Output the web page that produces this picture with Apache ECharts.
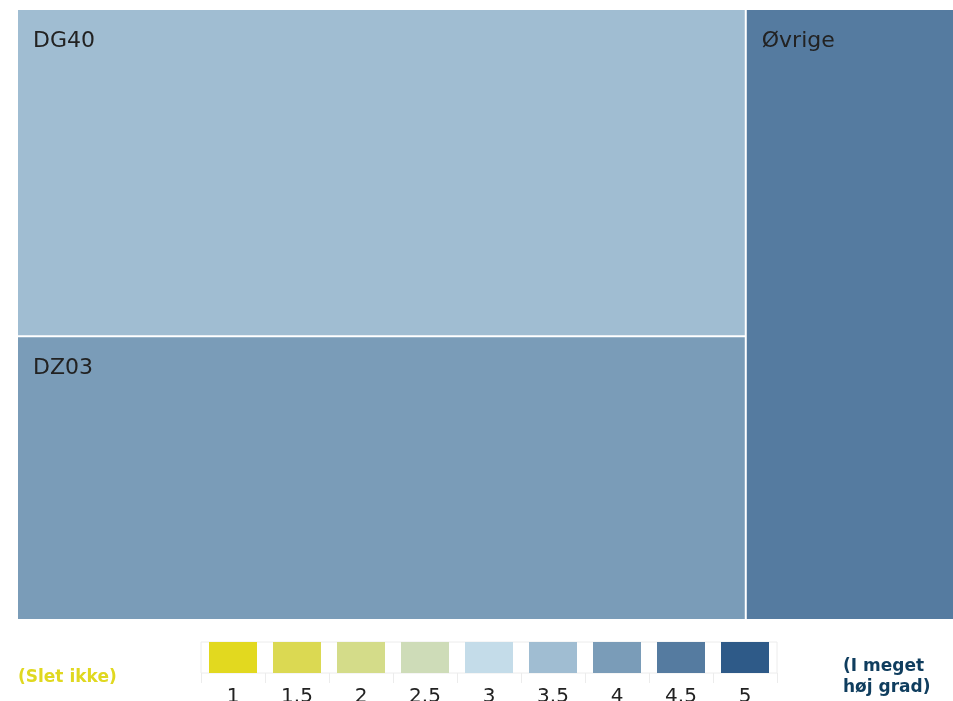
<!DOCTYPE html>
<html>
<head>
<meta charset="utf-8">
<script src="https://cdn.jsdelivr.net/npm/echarts@6/dist/echarts.min.js"></script>
<style>
html, body { margin: 0; padding: 0; background: #fff; }
#chart { width: 953px; height: 701px; }
</style>
</head>
<body>
<div id="chart"></div>
<script>
// treemap data
var names = ['DG40', 'DZ03', 'Øvrige'];
var sizes = [15, 13, 8];
var scores = [3.5, 4, 4.5];

// colour scale legend
var scaleLabels = ['1', '1.5', '2', '2.5', '3', '3.5', '4', '4.5', '5'];
var scaleColors = ['#e2d91f', '#dbd952', '#d4dc89', '#cedcb8', '#c4dce9', '#a0bdd2', '#7a9cb8', '#557ba0', '#2e5a88'];

function colorFor(score) {
    var idx = scaleLabels.indexOf(String(score));
    return scaleColors[idx];
}

var treeData = [];
for (var i = 0; i < names.length; i++) {
    treeData.push({
        name: names[i],
        value: sizes[i],
        itemStyle: { color: colorFor(scores[i]) }
    });
}

var chart = echarts.init(document.getElementById('chart'));
chart.setOption({
    animation: false,
    textStyle: { fontFamily: 'DejaVu Sans' },
    grid: {
        left: 201,
        top: 642,
        width: 576,
        height: 31,
        show: true,
        borderColor: '#ececec',
        borderWidth: 1,
        containLabel: false,
        outerBoundsMode: 'none'
    },
    xAxis: {
        type: 'category',
        data: scaleLabels,
        axisLine: { show: false },
        axisTick: { show: true, length: 10, lineStyle: { color: '#ececec' } },
        axisLabel: { fontSize: 20, color: '#222', margin: 14, fontFamily: 'DejaVu Sans' },
        splitLine: { show: false }
    },
    yAxis: { type: 'value', min: 0, max: 1, show: false },
    graphic: [
        {
            type: 'text',
            left: 18,
            top: 669,
            style: { text: '(Slet ikke)', fill: '#e0d820', font: 'bold 17px "DejaVu Sans"' }
        },
        {
            type: 'text',
            left: 843,
            top: 656,
            style: {
                text: '(I meget\nhøj grad)',
                fill: '#0f3d5e',
                font: 'bold 17px "DejaVu Sans"',
                lineHeight: 21,
                align: 'center'
            }
        }
    ],
    series: [
        {
            type: 'bar',
            barWidth: 48,
            silent: true,
            data: scaleColors.map(function (c) {
                return { value: 1, itemStyle: { color: c } };
            })
        },
        {
            type: 'treemap',
            left: 18,
            top: 10,
            right: 0,
            bottom: 82,
            roam: false,
            nodeClick: false,
            silent: true,
            breadcrumb: { show: false },
            itemStyle: { borderWidth: 0, gapWidth: 2, borderColor: '#fff' },
            label: {
                show: true,
                position: [10, 15],
                fontSize: 22,
                color: '#222',
                fontFamily: 'DejaVu Sans'
            },
            emphasis: { disabled: true },
            data: treeData
        }
    ]
});
</script>
</body>
</html>
